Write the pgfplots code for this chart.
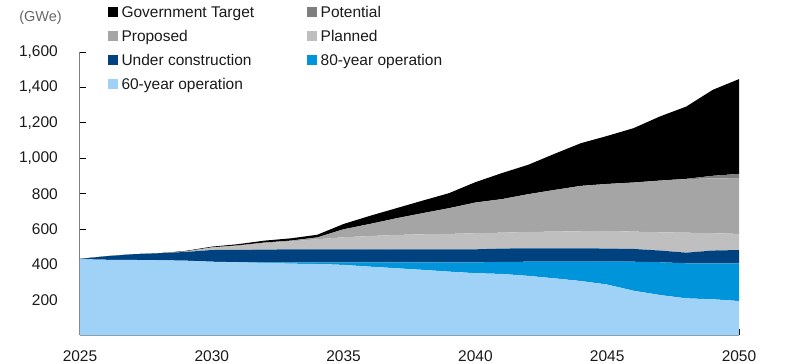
\documentclass[border=0pt]{standalone}
\usepackage{fontspec}
\setmainfont{Liberation Sans}
\usepackage{pgfplots}
\pgfplotsset{compat=1.18}
\usepackage{pgfplotstable}
\definecolor{cGov}{HTML}{000000}
\definecolor{cPot}{HTML}{7F7F7F}
\definecolor{cProp}{HTML}{A5A5A5}
\definecolor{cPlan}{HTML}{BFBFBF}
\definecolor{cUC}{HTML}{00427F}
\definecolor{cEighty}{HTML}{0095DA}
\definecolor{cSixty}{HTML}{A0D2F7}
\definecolor{axgray}{HTML}{808080}
\definecolor{txt}{HTML}{1A1A1A}

\pgfplotstableread{
year L60 L80 UC Planned Proposed Potential Gov
2025 430 0 2 0 0 0 0
2026 427 0 20 0 0 0 0
2027 426 0 32 0 0 0 0
2028 424 0 40 0 0 0 0
2029 422 0 49 3 0 0 3
2030 416 0 66 13 2 0 4
2031 413 0 70 22 3 0 7
2032 409 3 72 36 4 0 11
2033 405 8 73 44 5 0 13
2034 403 9 74 57 10 0 15
2035 398 14 74 68 45 0 30
2036 388 24 74 75 68 0 46
2037 379 33 74 81 94 0 57
2038 370 42 74 85 119 0 71
2039 360 52 74 87 145 0 85
2040 351 61 74 91 173 0 115
2041 347 68 75 90 189 0 147
2042 336 80 76 92 213 0 166
2043 322 94 76 94 235 0 204
2044 307 109 76 96 256 0 241
2045 287 129 74 100 265 0 271
2046 252 164 72 98 277 0 307
2047 228 185 66 103 292 0 362
2048 209 198 60 113 302 2 408
2049 204 203 72 98 310 14 485
2050 194 213 75 91 312 27 535
}\data

\begin{document}
\begin{tikzpicture}
\useasboundingbox (0pt,0pt) rectangle (801pt,364pt);
\begin{axis}[
  at={(80pt,28.6pt)}, anchor=south west,
  scale only axis, width=659pt, height=283.4pt,
  xmin=2025, xmax=2050, ymin=0, ymax=1600,
  clip=false,
  stack plots=y,
  axis x line*=bottom, axis y line*=left,
  axis line style={axgray, line width=1pt},
  tick align=inside, major tick length=6pt,
  tick style={black, line width=0.8pt},
  xtick={2025,2030,...,2050},
  ytick={200,400,...,1600},
  /pgf/number format/assume math mode=true,
  xticklabel style={font=\fontsize{15.5pt}{18pt}\selectfont, text=txt, inner sep=0pt, anchor=north, yshift=-15pt, /pgf/number format/1000 sep={}},
  yticklabel style={font=\fontsize{15.5pt}{18pt}\selectfont, text=txt, inner sep=0pt, anchor=east, xshift=-22pt, /pgf/number format/1000 sep={,}},
  reverse legend,
  legend columns=2,
  legend cell align=left,
  legend style={draw=none, fill=none, inner sep=0pt, outer sep=0pt,
    at={(axis description cs:0.0425,1.1747)}, anchor=north west,
    font=\fontsize{15.5pt}{18pt}\selectfont, text=txt,
    nodes={text height=14pt, text depth=3pt, inner sep=1pt},
    row sep=5pt,
    /tikz/every odd column/.append style={column sep=2.5pt},
    /tikz/every even column/.append style={column sep=52pt}},
  legend image code/.code={\fill[#1] (0pt,-5pt) rectangle (10pt,5pt);},
]
\addplot[fill=cSixty, draw=none] table[x=year, y=L60] {\data} \closedcycle;
\addlegendentry{60-year operation}
\addplot[fill=cEighty, draw=none] table[x=year, y=L80] {\data} \closedcycle;
\addlegendentry{80-year operation}
\addplot[fill=cUC, draw=none] table[x=year, y=UC] {\data} \closedcycle;
\addlegendentry{Under construction}
\addplot[fill=cPlan, draw=none] table[x=year, y=Planned] {\data} \closedcycle;
\addlegendentry{Planned}
\addplot[fill=cProp, draw=none] table[x=year, y=Proposed] {\data} \closedcycle;
\addlegendentry{Proposed}
\addplot[fill=cPot, draw=none] table[x=year, y=Potential] {\data} \closedcycle;
\addlegendentry{Potential}
\addplot[fill=cGov, draw=none] table[x=year, y=Gov] {\data} \closedcycle;
\addlegendentry{Government Target}
\node[anchor=east, inner sep=0pt, xshift=-18pt, text=axgray!80!black, font=\fontsize{14.5pt}{17pt}\selectfont] at (axis description cs:0,1.12) {(GWe)};
\end{axis}
\end{tikzpicture}
\end{document}
